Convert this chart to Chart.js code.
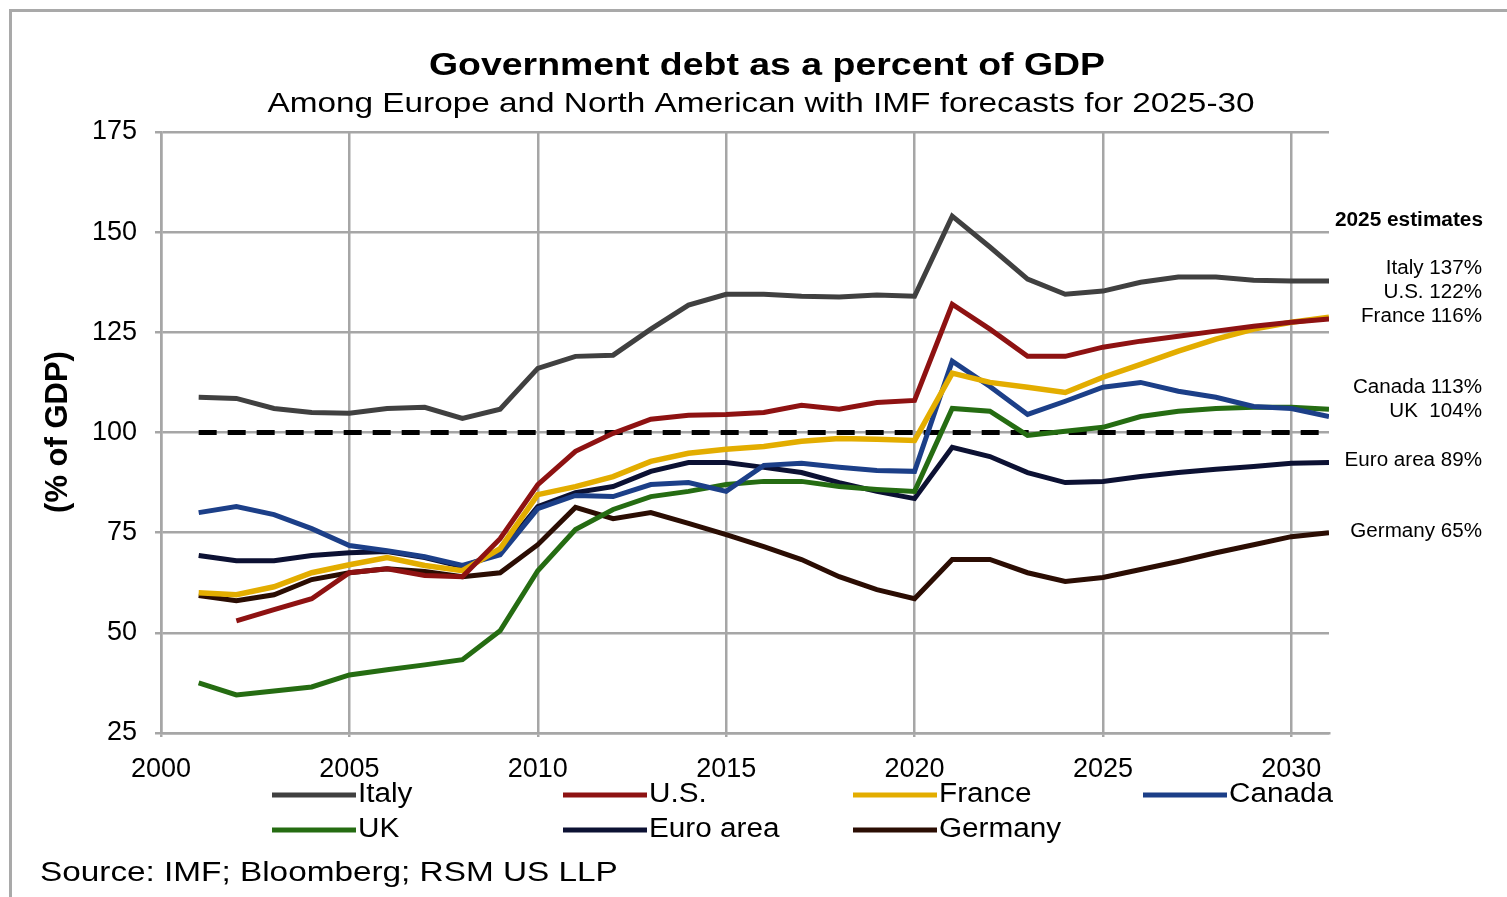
<!DOCTYPE html>
<html>
<head>
<meta charset="utf-8">
<script src="https://cdn.jsdelivr.net/npm/chart.js@4.4.1/dist/chart.umd.min.js"></script>
<style>
  html, body { margin: 0; padding: 0; background: #fff; }
  #wrap { position: relative; width: 1507px; height: 897px; overflow: hidden; }
  #frame { position: absolute; left: 9px; top: 9px; width: 1520px; height: 920px;
           border-top: 3px solid #a9a9a9; border-left: 3px solid #a9a9a9; }
  #chart { position: absolute; left: 0; top: 0; }
</style>
</head>
<body>
<div id="wrap">
  <div id="frame"></div>
  <canvas id="chart" width="1507" height="897"></canvas>
</div>
<script>
(() => {
    const years = [2001, 2002, 2003, 2004, 2005, 2006, 2007, 2008, 2009, 2010,
                   2011, 2012, 2013, 2014, 2015, 2016, 2017, 2018, 2019, 2020,
                   2021, 2022, 2023, 2024, 2025, 2026, 2027, 2028, 2029, 2030, 2031];

    const italy   = [108.8, 108.5, 106, 105, 104.8, 106, 106.3, 103.5, 105.8, 116,
                     119, 119.3, 125.8, 131.8, 134.5, 134.5, 134, 133.8, 134.3, 134,
                     154, 146.3, 138.3, 134.5, 135.3, 137.5, 138.8, 138.8, 138, 137.8, 137.8];
    const us      = [null, 53, 55.8, 58.5, 65, 66, 64.3, 64, 73.5, 87,
                     95.3, 99.8, 103.3, 104.3, 104.5, 105, 106.8, 105.8, 107.5, 108,
                     132, 125.8, 119, 119, 121.3, 122.8, 124, 125.3, 126.5, 127.5, 128.3];
    const france  = [60, 59.5, 61.5, 65, 67, 68.8, 66.8, 65.5, 71, 84.5,
                     86.5, 89, 92.8, 94.8, 95.8, 96.5, 97.8, 98.5, 98.3, 98,
                     114.8, 112.5, 111.3, 110, 113.8, 117, 120.3, 123.3, 125.8, 127.5, 128.8];
    const canada  = [80, 81.5, 79.5, 76, 71.8, 70.5, 69, 66.8, 69.5, 81,
                     84.3, 84, 87, 87.5, 85.3, 91.8, 92.3, 91.3, 90.5, 90.3,
                     117.8, 111.5, 104.5, 107.8, 111.3, 112.5, 110.3, 108.8, 106.5, 106, 104];
    const uk      = [37.5, 34.5, 35.5, 36.5, 39.5, 40.8, 42, 43.3, 50.5, 65.5,
                     75.8, 80.8, 84, 85.3, 87, 87.8, 87.8, 86.5, 85.8, 85.3,
                     106, 105.3, 99.3, 100.3, 101.3, 104, 105.3, 106, 106.3, 106.3, 105.8];
    const euroArea = [69.3, 68, 68, 69.3, 70, 70.3, 68.8, 66.5, 70, 81.5,
                      85, 86.5, 90.3, 92.5, 92.5, 91.3, 90, 87.5, 85.3, 83.5,
                      96.3, 94, 90, 87.5, 87.8, 89, 90, 90.8, 91.5, 92.3, 92.5];
    const germany = [59.3, 58, 59.5, 63.3, 65, 66, 65.3, 64, 65, 72,
                     81.3, 78.5, 80, 77.3, 74.5, 71.5, 68.3, 64, 60.8, 58.5,
                     68.3, 68.3, 65, 62.8, 63.8, 65.8, 67.8, 70, 72, 74, 75];

    const refYears = [2001, 2031];
    const refValues = [100, 100];

    const seriesNames = ["Italy", "U.S.", "France", "Canada", "UK", "Euro area", "Germany"];
    const seriesColors = ["#404040", "#8e1212", "#e3ad00", "#1c3f88", "#256c12", "#0c1133", "#2b0d03"];
    const seriesValues = [italy, us, france, canada, uk, euroArea, germany];

    const estimateLabels = ["Italy 137%", "U.S. 122%", "France 116%", "Canada 113%", "UK  104%", "Euro area 89%", "Germany 65%"];

    const yTicks = [25, 50, 75, 100, 125, 150, 175];
    const xTicks = [2000, 2005, 2010, 2015, 2020, 2025, 2030];

    const FONT = "'Liberation Sans', Arial, sans-serif";
    const GRID = "#a6a6a6";

    const toPoints = (xs, ys) => xs.map((x, i) => ({ x, y: ys[i] }));

    const datasets = seriesValues.map((vals, i) => ({
        label: seriesNames[i],
        data: toPoints(years, vals),
        borderColor: seriesColors[i],
        backgroundColor: seriesColors[i],
        borderWidth: i === 2 ? 5.5 : 5,
        pointRadius: 0,
        tension: 0,
        spanGaps: false,
    }));
    datasets.push({
        label: "100",
        data: toPoints(refYears, refValues),
        borderColor: "#000",
        borderWidth: 5,
        borderDash: [18, 11],
        pointRadius: 0,
        order: 10,
    });

    // text squeezed wider, the source picture is stretched sideways
    function wideText(ctx, text, x, y, sx, align) {
        ctx.save();
        ctx.translate(x, y);
        ctx.scale(sx, 1);
        ctx.textAlign = align;
        ctx.fillText(text, 0, 0);
        ctx.restore();
    }

    // titles, legend, notes
    const decor = {
        id: "decor",
        afterDraw(chart) {
            const ctx = chart.ctx;
            ctx.save();
            ctx.fillStyle = "#000";
            ctx.textBaseline = "middle";

            ctx.font = `bold 32px ${FONT}`;
            wideText(ctx, "Government debt as a percent of GDP", 767, 66, 1.17, "center");
            ctx.font = `28px ${FONT}`;
            wideText(ctx, "Among Europe and North American with IMF forecasts for 2025-30", 761, 104, 1.19, "center");

            // y axis title
            ctx.save();
            ctx.translate(58, 432);
            ctx.rotate(-Math.PI / 2);
            ctx.textAlign = "center";
            ctx.font = `bold 31px ${FONT}`;
            ctx.fillText("(% of GDP)", 0, 0);
            ctx.restore();

            // 2025 estimates
            ctx.font = `bold 20px ${FONT}`;
            wideText(ctx, "2025 estimates", 1483, 220, 1.04, "right");
            ctx.font = `20px ${FONT}`;
            const noteY = [268, 292, 316, 387, 411, 460, 531];
            estimateLabels.forEach((t, i) => wideText(ctx, t, 1482, noteY[i], 1.03, "right"));

            // legend
            const colX = [272, 563, 853, 1143];
            const rowY = [795, 830];
            ctx.font = `27px ${FONT}`;
            seriesNames.forEach((name, i) => {
                const x = colX[i % 4];
                const y = rowY[Math.floor(i / 4)];
                ctx.strokeStyle = seriesColors[i];
                ctx.lineWidth = 5;
                ctx.beginPath();
                ctx.moveTo(x, y);
                ctx.lineTo(x + 84, y);
                ctx.stroke();
                wideText(ctx, name, x + 86, y, 1.1, "left");
            });

            ctx.font = `28px ${FONT}`;
            wideText(ctx, "Source: IMF; Bloomberg; RSM US LLP", 40, 873, 1.19, "left");
            ctx.restore();
        }
    };

    new Chart(document.getElementById("chart"), {
        type: "line",
        data: { datasets },
        options: {
            responsive: false,
            animation: false,
            devicePixelRatio: 1,
            layout: { padding: { top: 132, right: 178, bottom: 0, left: 0 } },
            plugins: { legend: { display: false }, tooltip: { enabled: false }, title: { display: false } },
            scales: {
                x: {
                    type: "linear",
                    min: 2000,
                    max: 2031,
                    afterFit: s => { s.height = 164; },
                    afterBuildTicks: s => { s.ticks = xTicks.map(v => ({ value: v })); },
                    ticks: { color: "#000", font: { family: FONT, size: 27 }, padding: 16, maxRotation: 0,
                             callback: v => String(v) },
                    grid: { color: GRID, lineWidth: 2.5, tickLength: 4, drawOnChartArea: true },
                    border: { color: GRID, width: 2.5 },
                },
                y: {
                    min: 25,
                    max: 175,
                    afterFit: s => { s.width = 161; },
                    afterBuildTicks: s => { s.ticks = yTicks.map(v => ({ value: v })); },
                    ticks: { color: "#000", font: { family: FONT, size: 27 }, padding: 18,
                             callback: v => String(v) },
                    grid: { color: GRID, lineWidth: 2.5, tickLength: 6 },
                    border: { color: GRID, width: 2.5 },
                }
            }
        },
        plugins: [decor]
    });
})();
</script>
</body>
</html>
